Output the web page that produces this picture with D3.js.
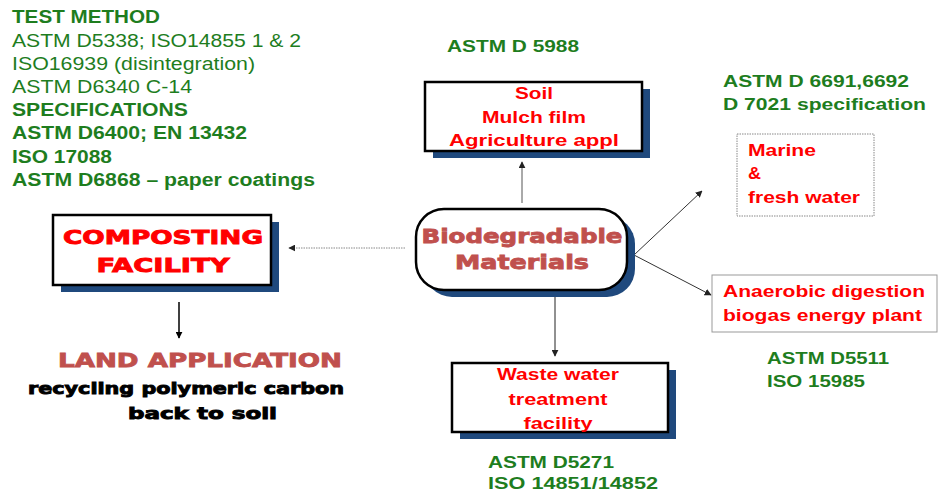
<!DOCTYPE html>
<html>
<head>
<meta charset="UTF-8">
<title>Biodegradable Materials</title>
<script src="https://d3js.org/d3.v7.min.js"></script>
<style>
body { margin: 0; background: #fff; }
svg { font-family: "Liberation Sans", Arial, sans-serif; }
</style>
</head>
<body>
<svg id="chart" width="938" height="498"></svg>
<script>
// text content of the diagram
var testMethodLines = ["TEST METHOD", "ASTM D5338; ISO14855 1 & 2", "ISO16939 (disintegration)", "ASTM D6340 C-14",
                       "SPECIFICATIONS", "ASTM D6400; EN 13432", "ISO 17088", "ASTM D6868 \u2013 paper coatings"];
var testMethodBold = [true, false, false, false, true, true, true, true];
var compostLabel = ["COMPOSTING", "FACILITY"];
var landLabel = ["LAND APPLICATION"];
var recycleLabel = ["recycling polymeric carbon", "back to soil"];
var centerLabel = ["Biodegradable", "Materials"];
var soilLabel = ["Soil", "Mulch film", "Agriculture  appl"];
var marineLabel = ["Marine", "&", "fresh water"];
var anaerobicLabel = ["Anaerobic digestion", "biogas energy plant"];
var wasteLabel = ["Waste water", "treatment", "facility"];
var soilStd = ["ASTM D 5988"];
var marineStd = ["ASTM D 6691,6692", "D 7021 specification"];
var anaerobicStd = ["ASTM D5511", "ISO 15985"];
var wasteStd = ["ASTM D5271", "ISO 14851/14852"];

// layout (pixel positions, text widths as seen in the picture)
var green = "#1e7d1e", red = "#ff0000", rose = "#c0504d", navy = "#1f497d";
var heavy = "'DejaVu Sans', sans-serif";

var svg = d3.select("#chart");

var defs = svg.append("defs");
["blk", "gry"].forEach(function(id, i) {
  defs.append("marker")
      .attr("id", id)
      .attr("viewBox", "0 0 10 10")
      .attr("refX", 9).attr("refY", 5)
      .attr("markerWidth", 7).attr("markerHeight", 7)
      .attr("markerUnits", "userSpaceOnUse")
      .attr("orient", "auto")
    .append("path")
      .attr("d", "M0,0 L10,5 L0,10 z")
      .attr("fill", i ? "#222" : "#000");
});

function lines(g, arr, x, y0, dy, opts) {
  g.selectAll(null).data(arr).enter().append("text")
      .attr("x", function(d, i) { return Array.isArray(x) ? x[i] : x; })
      .attr("y", function(d, i) { return y0 + i * dy; })
      .attr("dy", "0.36em")
      .attr("text-anchor", opts.anchor || "start")
      .attr("fill", opts.fill)
      .attr("stroke", opts.heavy ? opts.fill : null)
      .attr("stroke-width", opts.heavy || null)
      .attr("font-family", opts.family || null)
      .attr("font-size", opts.size)
      .attr("font-weight", function(d, i) { return opts.bold ? (typeof opts.bold === "function" ? (opts.bold(i) ? "bold" : "normal") : "bold") : "normal"; })
      .attr("textLength", function(d, i) { return opts.widths ? opts.widths[i] : null; })
      .attr("lengthAdjust", opts.widths ? "spacingAndGlyphs" : null)
      .text(function(d) { return d; });
}

function box(x, y, w, h, opt) {
  var r = opt.r || 0;
  if (opt.shadow) {
    svg.append("rect").attr("x", x + 8).attr("y", y + 7).attr("width", w).attr("height", h)
       .attr("rx", r).attr("fill", navy);
  }
  svg.append("rect").attr("x", x).attr("y", y).attr("width", w).attr("height", h)
     .attr("rx", r).attr("fill", "#fff")
     .attr("stroke", opt.stroke || "#000")
     .attr("stroke-width", opt.sw || 2.5)
     .attr("stroke-dasharray", opt.dash || null);
}

function arrow(x1, y1, x2, y2, opt) {
  svg.append("line").attr("x1", x1).attr("y1", y1).attr("x2", x2).attr("y2", y2)
     .attr("stroke", opt.stroke || "#333")
     .attr("stroke-width", opt.sw || 1)
     .attr("stroke-dasharray", opt.dash || null)
     .attr("marker-end", "url(#" + (opt.m || "gry") + ")");
}

// arrows
arrow(405, 248, 289, 248, {stroke: "#888", dash: "1.5,1"});
arrow(522, 203, 522, 162, {stroke: "#555"});
arrow(555, 291, 555, 356, {stroke: "#222"});
arrow(634, 255, 702, 191, {stroke: "#333"});
arrow(634, 255, 711, 295, {stroke: "#333"});
arrow(179, 302, 179, 338, {stroke: "#000", sw: 1.5, m: "blk"});

// boxes
box(53, 215, 218, 70, {shadow: true});
box(425, 82, 217, 69, {shadow: true});
box(416, 209, 211, 81, {shadow: true, r: 28});
box(452, 363, 216, 69, {shadow: true});
box(737, 134, 137, 82, {stroke: "#888", sw: 1, dash: "1.5,1"});
box(712, 275, 225, 57, {stroke: "#999", sw: 1});

// left text block
lines(svg, testMethodLines, 12, 17, 23.2, {fill: green, size: 17.5,
  bold: function(i) { return testMethodBold[i]; },
  widths: [148, 289, 243, 180, 176, 235, 100, 303]});

// box labels
lines(svg, compostLabel, 163, 237, 28, {anchor: "middle", fill: red, size: 20, family: heavy, bold: true, heavy: 0.9, widths: [200, 133]});
lines(svg, landLabel, 200, 360, 0, {anchor: "middle", fill: rose, size: 19, family: heavy, bold: true, heavy: 0.8, widths: [284]});
lines(svg, recycleLabel, [28, 128], 388, 25, {fill: "#000", size: 16, family: heavy, bold: true, heavy: 0.9, widths: [316, 149]});
lines(svg, centerLabel, 522, 236, 26, {anchor: "middle", fill: rose, size: 19, family: heavy, bold: true, heavy: 0.8, widths: [201, 134]});
lines(svg, soilLabel, 534, 93, 23.5, {anchor: "middle", fill: red, size: 17, bold: true, widths: [38, 104, 170]});
lines(svg, wasteLabel, 558, 374, 24.5, {anchor: "middle", fill: red, size: 17, bold: true, widths: [122, 99, 69]});
lines(svg, marineLabel, 748, 150, 23.3, {fill: red, size: 16.5, bold: true, widths: [68, 13, 112]});
lines(svg, anaerobicLabel, 723, 291, 24, {fill: red, size: 17, bold: true, widths: [202, 199]});

// standards
lines(svg, soilStd, 447, 46, 0, {fill: green, size: 16.5, bold: true, widths: [132]});
lines(svg, marineStd, 723, 81, 22.6, {fill: green, size: 16.5, bold: true, widths: [186, 203]});
lines(svg, anaerobicStd, 767, 358, 22.6, {fill: green, size: 16.5, bold: true, widths: [122, 98]});
lines(svg, wasteStd, 488, 462, 21.5, {fill: green, size: 16.5, bold: true, widths: [126, 170]});
</script>
</body>
</html>
